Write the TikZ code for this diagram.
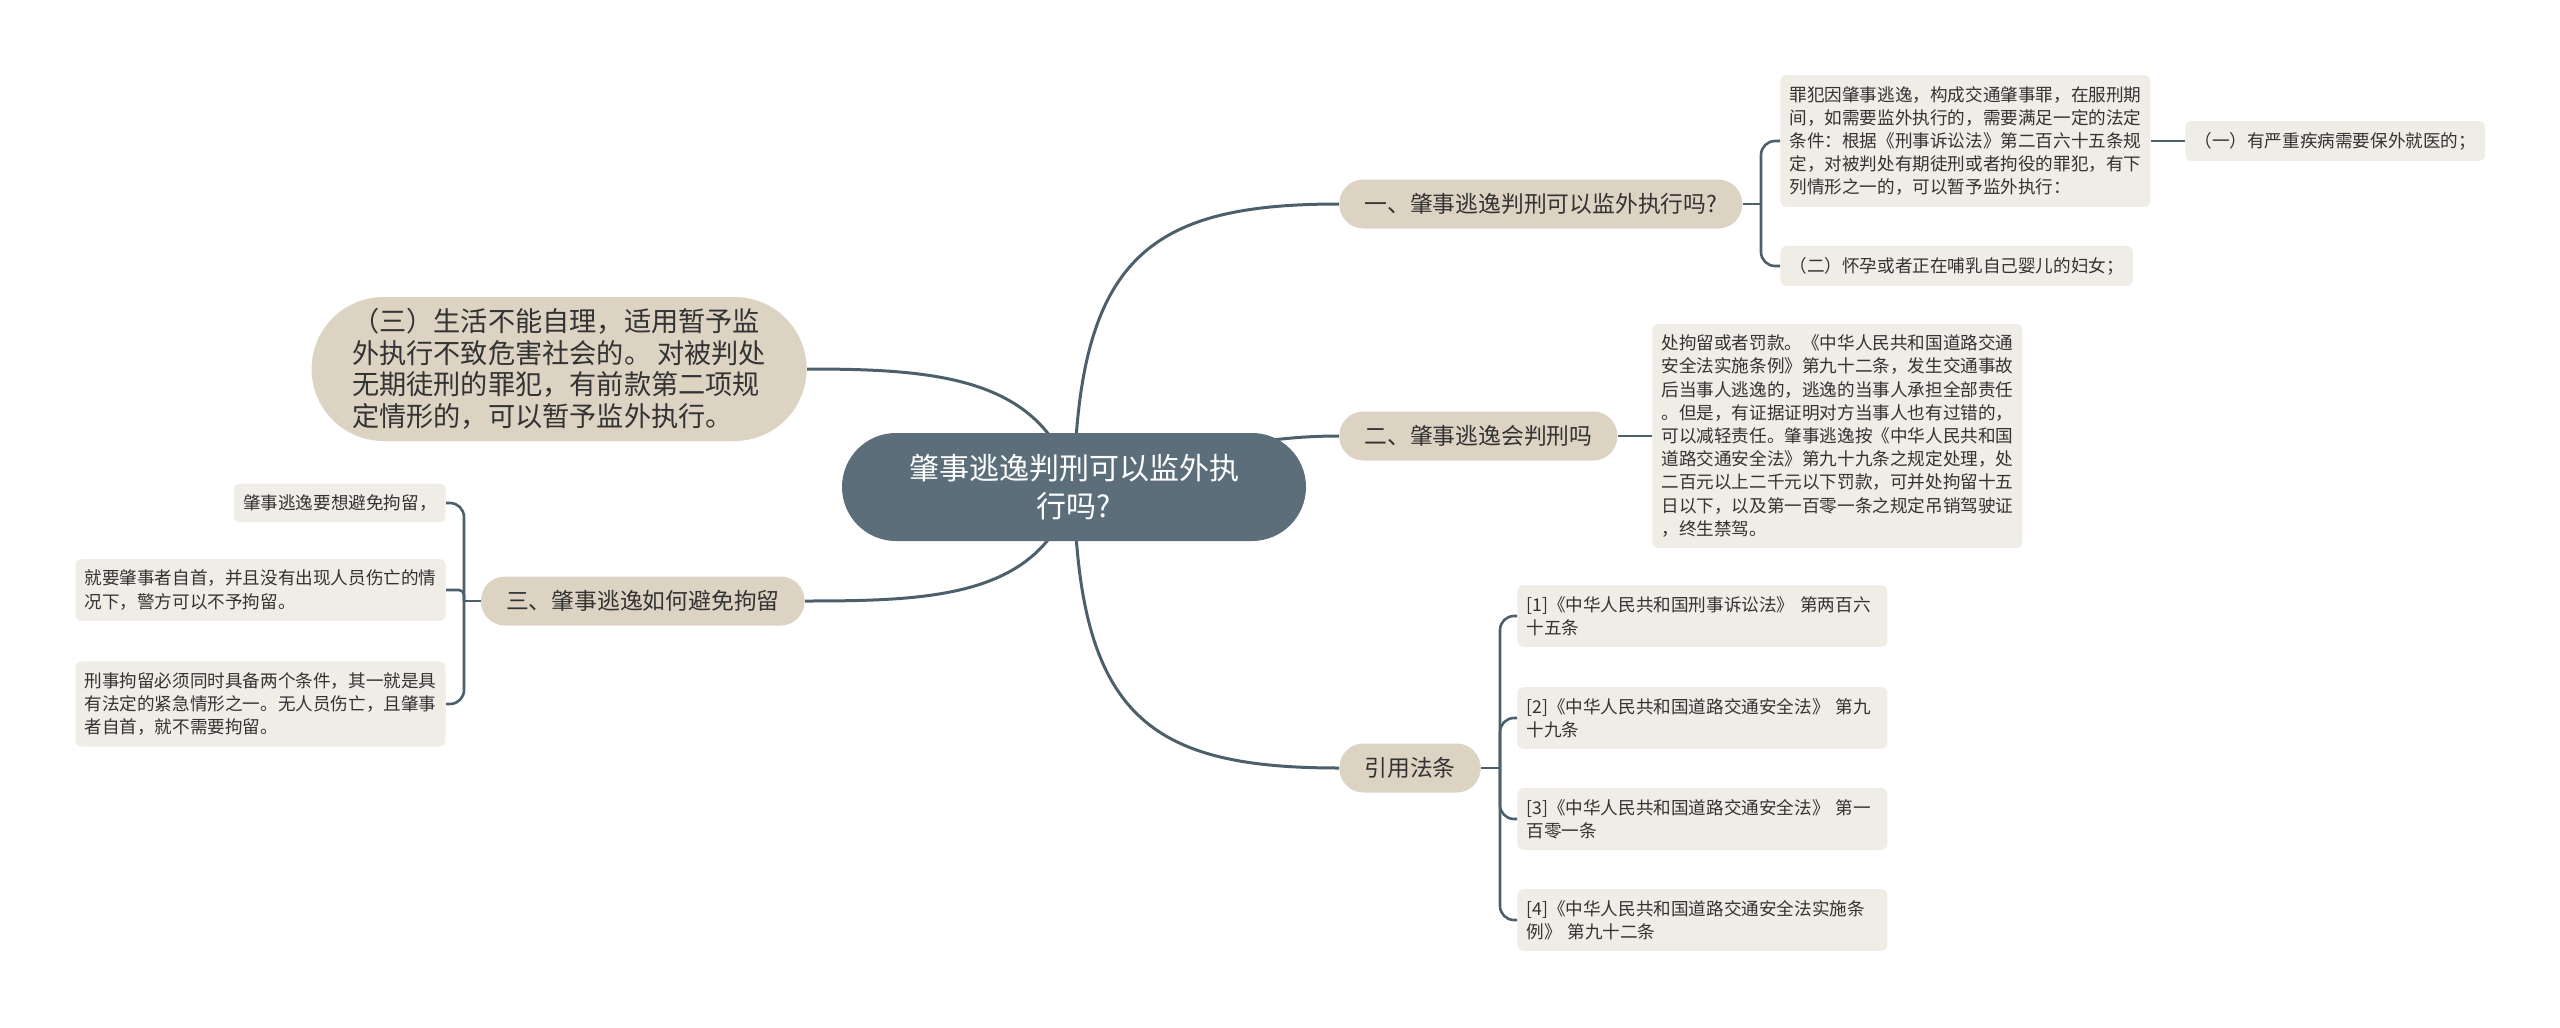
\documentclass[tikz,border=0pt]{standalone}
\usepackage{fontspec}
\setmainfont{Noto Sans CJK SC}
\usepackage{tikz}
\usetikzlibrary{
  positioning,
  backgrounds
}
\definecolor{rootfill}{HTML}{5B6E7A}
\definecolor{linecol}{HTML}{4C606C}
\definecolor{topicfill}{HTML}{DDD3C3}
\definecolor{leaffill}{HTML}{F0EDE6}
\definecolor{txtcol}{HTML}{333333}

\begin{document}
\begin{tikzpicture}[x=0.5pt,y=0.5pt,
    root/.style={fill=rootfill,text=white,rounded corners=27pt,minimum width=232pt,minimum height=54pt,align=center,font=\fontsize{15}{19}\selectfont},
    topic/.style={fill=topicfill,text=txtcol,rounded corners=12pt,minimum height=24.5pt,inner xsep=12.5pt,font=\fontsize{11.4}{14}\selectfont},
    bigtopic/.style={fill=topicfill,text=txtcol,rounded corners=36pt,minimum width=247.5pt,minimum height=72pt,align=left,font=\fontsize{13.6}{15.8}\selectfont},
    leaf/.style={fill=leaffill,text=txtcol,rounded corners=3pt,inner xsep=4.5pt,inner ysep=5.5pt,align=left,font=\fontsize{8.8}{11.6}\selectfont},
    link/.style={draw=linecol,line width=1.5pt},
    twig/.style={draw=linecol,line width=1.3pt,rounded corners=7pt}]
    \useasboundingbox (0,0) rectangle (2560,-1028);

    % centre and main topics
    \node[root] (root) at (1074,-487) {肇事逃逸判刑可以监外执\\行吗?};
    \node[topic,anchor=west] (t1) at (1339,-204) {一、肇事逃逸判刑可以监外执行吗?};
    \node[topic,anchor=west] (t2) at (1339,-436) {二、肇事逃逸会判刑吗};
    \node[topic,anchor=east] (t3) at (805,-601) {三、肇事逃逸如何避免拘留};
    \node[topic,anchor=west] (t4) at (1339,-768) {引用法条};
    \node[bigtopic,anchor=east] (t5) at (807,-369) {（三）生活不能自理，适用暂予监\\外执行不致危害社会的。 对被判处\\无期徒刑的罪犯，有前款第二项规\\定情形的，可以暂予监外执行。};

    % leaves of topic one
    \node[leaf,anchor=west] (l1a) at (1780,-141) {罪犯因肇事逃逸，构成交通肇事罪，在服刑期\\间，如需要监外执行的，需要满足一定的法定\\条件：根据《刑事诉讼法》第二百六十五条规\\定，对被判处有期徒刑或者拘役的罪犯，有下\\列情形之一的，可以暂予监外执行：};
    \node[leaf,anchor=west] (l1b) at (1780,-266) {（二）怀孕或者正在哺乳自己婴儿的妇女；};
    \node[leaf,anchor=west] (l1c) at (2185,-141) {（一）有严重疾病需要保外就医的；};

    % leaf of topic two
    \node[leaf,anchor=west] (l2a) at (1652,-436) {处拘留或者罚款。《中华人民共和国道路交通\\安全法实施条例》第九十二条，发生交通事故\\后当事人逃逸的，逃逸的当事人承担全部责任\\。但是，有证据证明对方当事人也有过错的，\\可以减轻责任。肇事逃逸按《中华人民共和国\\道路交通安全法》第九十九条之规定处理，处\\二百元以上二千元以下罚款，可并处拘留十五\\日以下，以及第一百零一条之规定吊销驾驶证\\，终生禁驾。};

    % leaves of topic three
    \node[leaf,anchor=east] (l3a) at (446,-503) {肇事逃逸要想避免拘留，};
    \node[leaf,anchor=east] (l3b) at (446,-590) {就要肇事者自首，并且没有出现人员伤亡的情\\况下，警方可以不予拘留。};
    \node[leaf,anchor=east] (l3c) at (446,-704) {刑事拘留必须同时具备两个条件，其一就是具\\有法定的紧急情形之一。无人员伤亡，且肇事\\者自首，就不需要拘留。};

    % references
    \node[leaf,anchor=west,text width=176pt] (l4a) at (1517,-616) {[1]《中华人民共和国刑事诉讼法》 第两百六\\十五条};
    \node[leaf,anchor=west,text width=176pt] (l4b) at (1517,-718) {[2]《中华人民共和国道路交通安全法》 第九\\十九条};
    \node[leaf,anchor=west,text width=176pt] (l4c) at (1517,-819) {[3]《中华人民共和国道路交通安全法》 第一\\百零一条};
    \node[leaf,anchor=west,text width=176pt] (l4d) at (1517,-920) {[4]《中华人民共和国道路交通安全法实施条\\例》 第九十二条};

    \coordinate (j1) at (1761,-204);
    \coordinate (j3) at (464,-601);
    \coordinate (j4) at (1500,-768);

    \begin{scope}[on background layer]
        \draw[link] (root.center) .. controls +(4,230) and +(-190,0) .. (t1.west);
        \draw[link] (root.center) .. controls +(110,30) and +(-90,0) .. (t2.west);
        \draw[link] (root.center) .. controls +(-30,-110) and +(130,0) .. (t3.east);
        \draw[link] (root.center) .. controls +(4,-230) and +(-190,0) .. (t4.west);
        \draw[link] (root.center) .. controls +(-30,110) and +(130,0) .. (t5.east);
    \end{scope}

    \draw[twig] (t1.east) -- (j1);
    \draw[twig] (j1) |- (l1a.west);
    \draw[twig] (j1) |- (l1b.west);
    \draw[twig] (l1a.east) -- (l1c.west);
    \draw[twig] (t2.east) -- (l2a.west);
    \draw[twig] (t3.west) -- (j3);
    \draw[twig] (j3) |- (l3a.east);
    \draw[twig,rounded corners=2.5pt] (j3) |- (l3b.east);
    \draw[twig] (j3) |- (l3c.east);
    \draw[twig] (t4.east) -- (j4);
    \foreach \n in {l4a,l4b,l4c,l4d}
        \draw[twig] (j4) |- (\n.west);
\end{tikzpicture}
\end{document}
